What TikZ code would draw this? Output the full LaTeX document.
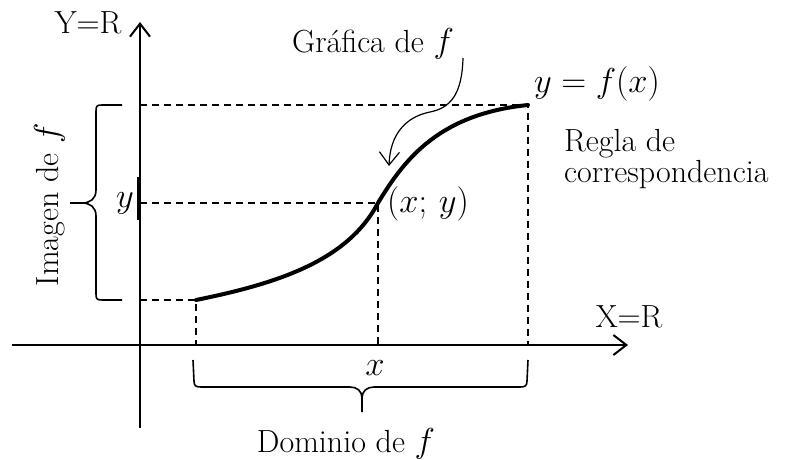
\documentclass[tikz,border=0pt]{standalone}
\usepackage{amsmath}
\usepackage{tikz}
\usetikzlibrary{arrows.meta}

\begin{document}
\begin{tikzpicture}[x=0.5pt, y=-0.5pt, >={Straight Barb[length=6.5pt,width=10pt]},
    font=\fontsize{16}{16}\selectfont,
    eje/.style={line width=1pt},
    guia/.style={line width=0.8pt, dash pattern=on 3.5pt off 2.5pt},
    llave/.style={line width=0.8pt},
    grafica/.style={line width=2pt, line cap=round}]
    \useasboundingbox (0,0) rectangle (787,460);

    % Puntos de la grafica
    \coordinate (P0) at (196,300);
    \coordinate (P)  at (378,203);
    \coordinate (P1) at (528,105);
    % Proyecciones sobre los ejes
    \coordinate (X0) at (196,345);
    \coordinate (Xp) at (378,345);
    \coordinate (X1) at (528,345);
    \coordinate (Y0) at (140,300);
    \coordinate (Yp) at (140,203);
    \coordinate (Y1) at (140,105);

    % Lineas guia (punteadas)
    \draw[guia] (Y1) -- (P1) -- (X1);
    \draw[guia] (Yp) -- (P) -- (Xp);
    \draw[guia] (Y0) -- (P0) -- (X0);

    % Ejes
    \draw[eje, ->] (12,345) -- (628,345);
    \draw[eje, ->] (140,428) -- (140,22);
    \draw[line width=1.3pt] (318,345) -- (433,345);
    \draw[line width=1.6pt] (139,177) -- (139,220);

    % Grafica de f
    \draw[grafica] (P0) .. controls (280,283) and (348,260) .. (P)
        .. controls (405,158) and (440,114) .. (P1);

    % Llave de la imagen
    \draw[llave] (122,105) -- (102,105) .. controls (97,105) and (96,106) .. (96,111)
        -- (96,190) .. controls (96,199) and (90,203) .. (82,203) -- (70,203);
    \draw[llave] (122,300) -- (102,300) .. controls (97,300) and (96,299) .. (96,294)
        -- (96,216) .. controls (96,207) and (90,203) .. (82,203);

    % Llave del dominio
    \draw[llave] (193,360) -- (194,381) .. controls (194,386) and (196,387) .. (201,387)
        -- (350,387) .. controls (357,387) and (362,391) .. (362,398) -- (362,412);
    \draw[llave] (528,360) -- (527,381) .. controls (527,386) and (525,387) .. (520,387)
        -- (374,387) .. controls (367,387) and (362,391) .. (362,398);

    % Etiquetas
    \node[anchor=base] (ejeY) at (88,34) {Y=R};
    \node[anchor=base] (ejeX) at (629,327) {X=R};
    \node[anchor=base] (graf) at (373,53) {Gráfica de $f$};
    \node (regla) at (597,84) {$y=f(x)$};
    \node[anchor=base west] (regla1) at (557,152) {Regla de};
    \node[anchor=base west] (regla2) at (557,183) {correspondencia};
    \node (punto) at (428,204) {$(x;\,y)$};
    \node (ly) at (125,203) {$y$};
    \node (lx) at (375,368) {$x$};
    \node[anchor=base] (dom) at (346,452) {Dominio de $f$};
    \node[rotate=90, anchor=base] (img) at (58,205) {Imagen de $f$};

    % Flecha hacia la grafica
    \coordinate (gA) at (463,58);
    \coordinate (gB) at (389,166);
    \draw[line width=0.6pt, ->] (gA) .. controls (462,95) and (450,108) .. (430,112)
        .. controls (405,117) and (390,135) .. (gB);
\end{tikzpicture}
\end{document}
